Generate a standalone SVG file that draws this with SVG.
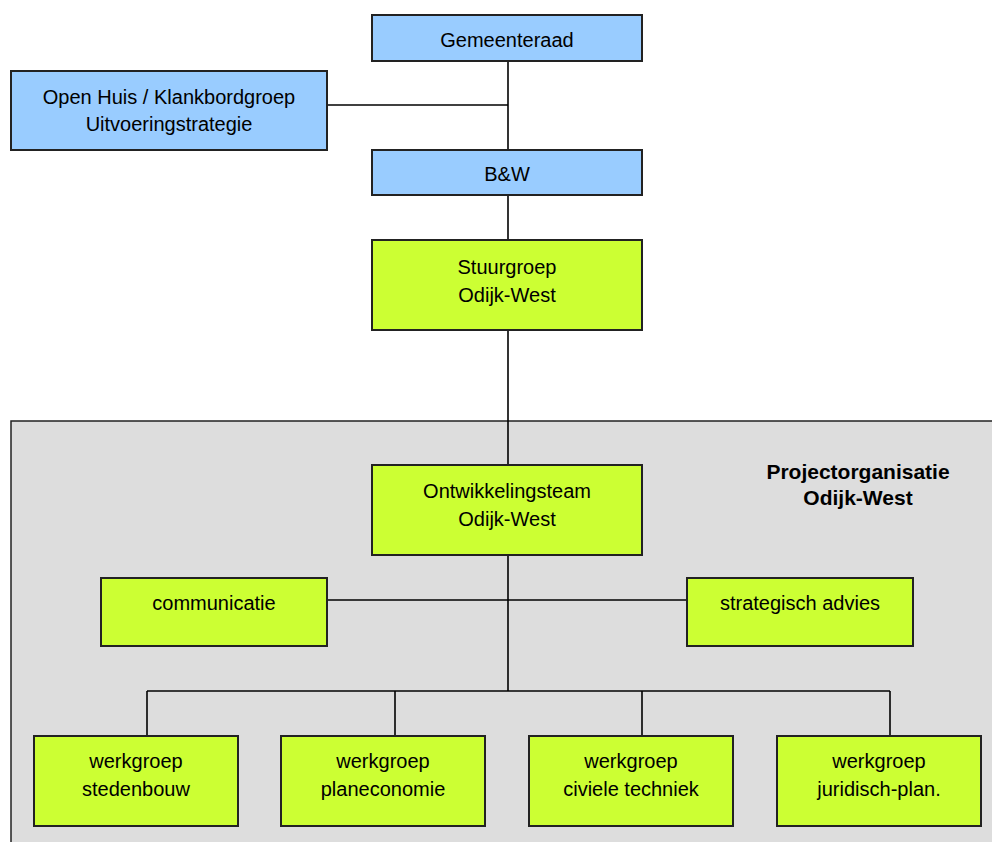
<svg xmlns="http://www.w3.org/2000/svg" width="992" height="842" viewBox="0 0 992 842">
<style>
.box{stroke:#222;stroke-width:2}
.blue{fill:#99ccff}
.green{fill:#ccff33}
.t{font-family:"Liberation Sans",Arial,sans-serif;font-size:20px;fill:#000;text-anchor:middle}
.title{font-family:"Liberation Sans",Arial,sans-serif;font-size:21px;font-weight:bold;fill:#000;text-anchor:middle}
.c{stroke:#000;stroke-width:1.6;fill:none}
</style>
<rect x="0" y="0" width="992" height="842" fill="#fff"/>
<g id="panel">
<rect x="11" y="421" width="990" height="430" fill="#dddddd" stroke="#222" stroke-width="1.5"/>
<text class="title" x="858" y="479">Projectorganisatie</text>
<text class="title" x="858" y="505">Odijk-West</text>
</g>
<g id="connectors">
<line class="c" x1="508" y1="61" x2="508" y2="150"/>
<line class="c" x1="327" y1="105" x2="508" y2="105"/>
<line class="c" x1="508" y1="195" x2="508" y2="240"/>
<line class="c" x1="508" y1="330" x2="508" y2="465"/>
<line class="c" x1="508" y1="555" x2="508" y2="691"/>
<line class="c" x1="327" y1="600" x2="687" y2="600"/>
<line class="c" x1="147" y1="691" x2="890" y2="691"/>
<line class="c" x1="147" y1="691" x2="147" y2="736"/>
<line class="c" x1="395" y1="691" x2="395" y2="736"/>
<line class="c" x1="642" y1="691" x2="642" y2="736"/>
<line class="c" x1="890" y1="691" x2="890" y2="736"/>
</g>
<g id="gemeenteraad">
<rect class="box blue" x="372" y="15" width="270" height="46"/>
<text class="t" x="507" y="47">Gemeenteraad</text>
</g>
<g id="openhuis">
<rect class="box blue" x="11" y="71" width="316" height="79"/>
<text class="t" x="169" y="104">Open Huis / Klankbordgroep</text>
<text class="t" x="169" y="131">Uitvoeringstrategie</text>
</g>
<g id="bw">
<rect class="box blue" x="372" y="150" width="270" height="45"/>
<text class="t" x="507" y="181">B&amp;W</text>
</g>
<g id="stuurgroep">
<rect class="box green" x="372" y="240" width="270" height="90"/>
<text class="t" x="507" y="274">Stuurgroep</text>
<text class="t" x="507" y="302">Odijk-West</text>
</g>
<g id="ontwikkelingsteam">
<rect class="box green" x="372" y="465" width="270" height="90"/>
<text class="t" x="507" y="498">Ontwikkelingsteam</text>
<text class="t" x="507" y="526">Odijk-West</text>
</g>
<g id="communicatie">
<rect class="box green" x="101" y="578" width="226" height="68"/>
<text class="t" x="214" y="610">communicatie</text>
</g>
<g id="strategisch">
<rect class="box green" x="687" y="578" width="226" height="68"/>
<text class="t" x="800" y="610">strategisch advies</text>
</g>
<g id="wg1">
<rect class="box green" x="34" y="736" width="204" height="90"/>
<text class="t" x="136" y="768">werkgroep</text>
<text class="t" x="136" y="796">stedenbouw</text>
</g>
<g id="wg2">
<rect class="box green" x="281" y="736" width="204" height="90"/>
<text class="t" x="383" y="768">werkgroep</text>
<text class="t" x="383" y="796">planeconomie</text>
</g>
<g id="wg3">
<rect class="box green" x="529" y="736" width="204" height="90"/>
<text class="t" x="631" y="768">werkgroep</text>
<text class="t" x="631" y="796">civiele techniek</text>
</g>
<g id="wg4">
<rect class="box green" x="777" y="736" width="204" height="90"/>
<text class="t" x="879" y="768">werkgroep</text>
<text class="t" x="879" y="796">juridisch-plan.</text>
</g>
</svg>
